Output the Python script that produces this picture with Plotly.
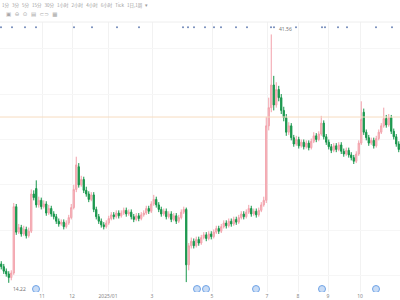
import plotly.graph_objects as go

# ---------------- data ----------------
opens = [16.3,16.0,15.5,15.2,14.8,15.3,22.6,19.8,20.3,19.6,20.1,19.4,19.9,24.0,24.6,22.8,23.3,22.6,22.9,21.9,
         22.4,21.8,21.5,21.0,20.7,20.9,20.4,20.8,21.4,22.5,24.5,27.0,25.0,25.6,24.4,24.0,23.4,23.9,22.3,21.5,
         21.0,20.6,20.4,20.8,21.3,21.7,21.5,21.9,21.6,21.9,22.2,21.8,22.0,21.5,21.2,21.6,21.3,21.7,21.9,22.4,
         22.1,22.9,23.4,22.8,22.3,21.8,22.1,21.5,21.8,21.2,21.6,21.0,21.4,22.0,22.3,16.2,18.3,18.8,18.3,19.0,
         18.6,19.2,19.5,19.1,19.6,19.3,19.8,20.2,19.9,20.4,20.8,20.5,21.0,20.7,21.2,20.9,21.4,21.8,21.5,22.0,
         22.4,21.8,22.1,21.7,22.2,22.8,23.3,31.5,33.5,36.0,33.8,35.5,34.6,33.2,32.4,30.8,31.5,30.2,29.5,30.0,
         29.3,29.7,29.2,29.6,29.1,29.8,30.4,30.0,30.6,31.8,30.3,29.7,29.2,28.8,29.3,28.9,29.4,28.7,28.4,28.8,
         28.3,28.0,27.6,28.4,29.6,33.0,30.8,30.2,29.6,29.9,29.3,30.1,30.8,31.5,32.3,31.6,32.4,30.9,30.3,29.5]
highs = [16.6,16.3,15.8,15.5,15.6,23.0,22.9,20.7,20.6,20.5,20.4,20.3,24.5,24.4,25.5,23.7,23.6,23.3,23.2,22.8,
         22.7,22.1,21.8,21.3,21.2,21.2,21.1,21.7,22.9,25.0,28.1,27.4,26.0,25.9,24.8,24.3,24.2,24.2,22.6,21.8,
         21.3,20.9,21.1,21.6,22.0,22.0,22.2,22.2,22.2,22.5,22.5,22.3,22.3,21.8,21.9,21.9,22.0,22.2,22.7,22.7,
         23.2,23.9,23.7,23.1,22.6,22.4,22.4,22.1,22.1,21.9,21.9,21.7,22.3,22.6,22.5,18.6,19.2,19.1,19.3,19.3,
         19.5,19.8,19.8,19.9,19.9,20.1,20.5,20.5,20.7,21.1,21.1,21.3,21.3,21.5,21.5,21.7,22.1,22.1,22.3,22.8,
         22.7,22.4,22.4,22.5,23.1,23.7,32.5,34.6,41.56,37.0,36.3,35.9,35.0,33.6,32.8,31.9,31.8,30.5,30.4,30.3,
         30.0,30.0,29.9,29.9,30.1,30.8,30.7,30.9,32.6,32.1,30.6,30.0,29.5,29.6,29.6,29.7,29.7,29.0,29.1,29.1,
         28.6,28.3,28.7,29.9,34.2,33.4,31.1,30.5,30.2,30.2,30.4,31.1,31.8,33.5,32.7,32.8,32.7,31.2,30.6,29.8]
lows = [15.7,15.2,14.9,14.22,14.5,15.1,19.5,19.6,19.3,19.4,19.1,19.2,19.7,23.3,22.5,22.5,22.3,22.4,21.6,21.7,
        21.5,21.2,20.7,20.4,20.5,20.1,20.2,20.6,21.2,22.3,24.2,24.7,24.8,24.1,23.7,23.1,23.2,22.0,21.2,20.7,
        20.3,20.1,20.2,20.6,21.1,21.2,21.3,21.3,21.4,21.7,21.5,21.6,21.2,20.9,21.0,21.0,21.1,21.5,21.7,21.8,
        21.9,22.7,22.5,22.0,21.5,21.6,21.2,21.3,20.9,21.0,20.7,20.8,21.2,21.8,14.3,15.6,18.0,18.0,18.1,18.3,
        18.4,19.0,18.8,18.9,19.0,19.1,19.6,19.6,19.7,20.2,20.2,20.3,20.4,20.5,20.6,20.7,21.2,21.2,21.3,21.8,
        21.5,21.6,21.4,21.5,22.0,22.6,23.0,31.0,33.0,33.2,33.5,34.2,32.8,32.0,30.4,30.5,29.9,29.2,29.3,29.0,
        29.1,28.9,29.0,28.8,28.9,29.6,29.7,29.8,30.4,30.0,29.4,28.9,28.5,28.6,28.6,28.7,28.4,28.1,28.2,28.0,
        27.7,27.3,27.4,28.2,29.4,30.5,29.9,29.3,29.4,29.0,29.1,29.9,30.6,31.3,31.3,31.4,30.6,30.0,29.2,28.6]
closes = [16.0,15.5,15.2,14.8,15.3,22.6,19.8,20.3,19.6,20.1,19.4,19.9,24.0,23.6,22.8,23.3,22.6,22.9,21.9,22.4,
          21.8,21.5,21.0,20.7,20.9,20.4,20.8,21.4,22.5,24.5,27.2,25.0,25.6,24.4,24.0,23.4,23.9,22.3,21.5,21.0,
          20.6,20.4,20.8,21.3,21.7,21.5,21.9,21.6,21.9,22.2,21.8,22.0,21.5,21.2,21.6,21.3,21.7,21.9,22.4,22.1,
          22.9,23.4,22.8,22.3,21.8,22.1,21.5,21.8,21.2,21.6,21.0,21.4,22.0,22.3,16.2,18.3,18.8,18.3,19.0,18.6,
          19.2,19.5,19.1,19.6,19.3,19.8,20.2,19.9,20.4,20.8,20.5,21.0,20.7,21.2,20.9,21.4,21.8,21.5,22.0,22.4,
          21.8,22.1,21.7,22.2,22.8,23.3,31.5,33.5,36.0,33.8,35.5,34.6,33.2,32.4,30.8,31.5,30.2,29.5,30.0,29.3,
          29.7,29.2,29.6,29.1,29.8,30.4,30.0,30.6,31.8,30.3,29.7,29.2,28.8,29.3,28.9,29.4,28.7,28.4,28.8,28.3,
          28.0,27.6,28.4,29.6,32.2,30.8,30.2,29.6,29.9,29.3,30.1,30.8,31.5,32.3,31.6,32.4,30.9,30.3,29.5,28.9]

tick_pos = [16.3, 28.3, 42.7, 60.3, 84.3, 106.3, 118.7, 130.7, 143.5]
tick_labels = ["11", "12", "2025/01", "3", "5", "7", "8", "9", "10"]

event_idx = [13.9, 78.3, 81.9, 101.9, 128.3, 149.9]
top_dot_idx = [-0.1, 4.3, 9.5, 13.9, 29.1, 36.3, 46.3, 55.1, 72.7, 74.7, 77.1, 81.5, 85.1, 87.9,
               93.9, 98.3, 107.9, 109.1, 117.9, 128.3, 129.5, 134.7, 138.3, 149.9, 156.3]
ref_price = 32.47

toolbar_items = ["1分", "3分", "5分", "15分", "30分", "1小时", "2小时", "4小时", "6小时", "Tick", "1日,1周", "▾"]
toolbar_icons = ["▣", "⊖", "⊙", "▤", "⊂⊃", "▦"]

idx = list(range(len(closes)))

fig = go.Figure()
fig.add_trace(go.Candlestick(
    x=idx, open=opens, high=highs, low=lows, close=closes,
    increasing=dict(line=dict(color="#f2a0aa", width=1), fillcolor="#f8c6cc"),
    decreasing=dict(line=dict(color="#15954a", width=1), fillcolor="#15954a"),
    whiskerwidth=0, showlegend=False, hoverinfo="skip"))

# event markers (bottom) and top dot row on overlay axis
fig.add_trace(go.Scatter(x=event_idx, y=[0.011]*len(event_idx), yaxis="y2", mode="markers",
                         marker=dict(symbol="circle", size=7, color="#c9dcf5",
                                     line=dict(color="#6fa3e6", width=1)),
                         showlegend=False, hoverinfo="skip"))
fig.add_trace(go.Scatter(x=top_dot_idx, y=[0.981]*len(top_dot_idx), yaxis="y2", mode="markers",
                         marker=dict(symbol="circle", size=2, color="#7088b8"),
                         showlegend=False, hoverinfo="skip"))

fig.add_hline(y=ref_price, line=dict(color="#f7dcc0", width=1))

imax = highs.index(max(highs))
imin = lows.index(min(lows))
fig.add_annotation(x=imax, y=max(highs), text=f"{max(highs):.2f}", showarrow=False,
                   xanchor="left", yanchor="bottom", xshift=6, yshift=0,
                   font=dict(size=5, color="#777", family="Noto Sans"))
fig.add_annotation(x=imin, y=min(lows), text=f"{min(lows):.2f}", showarrow=False,
                   xanchor="left", yanchor="top", xshift=2, yshift=-1,
                   font=dict(size=5, color="#777", family="Noto Sans"))

# toolbar
fig.add_annotation(x=0, y=1, xref="paper", yref="paper", xanchor="left", yanchor="top",
                   text="   ".join(toolbar_items), showarrow=False, yshift=22,
                   font=dict(size=4.5, color="#9a9a9a", family="Noto Sans CJK SC"))
fig.add_annotation(x=0.01, y=1, xref="paper", yref="paper", xanchor="left", yanchor="top",
                   text="  ".join(toolbar_icons), showarrow=False, yshift=13,
                   font=dict(size=5.5, color="#a8a8a8", family="DejaVu Sans"))
fig.add_shape(type="line", xref="paper", yref="paper", x0=0, x1=1, y0=1, y1=1,
              line=dict(color="#eeeeee", width=1))

fig.update_layout(
    width=400, height=300, margin=dict(l=0, r=0, t=22, b=8),
    paper_bgcolor="white", plot_bgcolor="white",
    xaxis=dict(range=[-0.5, 159.5], tickvals=tick_pos, ticktext=tick_labels,
               showgrid=True, gridcolor="#f2f2f2", gridwidth=1, zeroline=False,
               rangeslider=dict(visible=False), ticks="", ticklen=0,
               tickfont=dict(size=5, color="#888", family="Noto Sans"), showline=False),
    yaxis=dict(range=[13.21, 42.93], showticklabels=False, showgrid=True, gridcolor="#f6f6f6",
               dtick=5, zeroline=False),
    yaxis2=dict(range=[0, 1], overlaying="y", showgrid=False, showticklabels=False,
                zeroline=False),
)

fig.write_html("out.html")
